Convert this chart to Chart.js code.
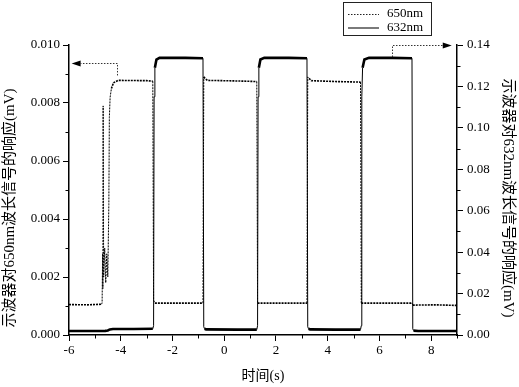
<!DOCTYPE html>
<html>
<head>
<meta charset="utf-8">
<script src="https://cdn.jsdelivr.net/npm/chart.js@4"></script>
<style>
  html, body { margin: 0; padding: 0; background: #fff; }
  #wrap { width: 519px; height: 387px; }
</style>
</head>
<body>
<div id="wrap"><canvas id="chart" width="519" height="387"></canvas></div>
<script>
// tick labels
var xTicks = [-6, -4, -2, 0, 2, 4, 6, 8];
var xMinor = [-5, -3, -1, 1, 3, 5, 7, 9];
var leftTicks = [0, 0.002, 0.004, 0.006, 0.008, 0.010];
var leftMinor = [0.001, 0.003, 0.005, 0.007, 0.009];
var rightTicks = [0, 0.02, 0.04, 0.06, 0.08, 0.10, 0.12, 0.14];
var rightMinor = [0.01, 0.03, 0.05, 0.07, 0.09, 0.11, 0.13];

// 650nm response (left axis, mV)
var time650 = [
  -6.0, -5.3, -4.75, -4.72, -4.70, -4.69, -4.68, -4.66, -4.62, -4.58, -4.54, -4.50,
  -4.46, -4.44, -4.41, -4.36, -4.28, -4.1, -3.0, -2.76,
  -2.73, -2.68, -1.5, -0.82,
  -0.79, -0.74, -0.65, 0.5, 1.26,
  1.29, 3.20,
  3.23, 3.28, 3.37, 4.3, 5.27,
  5.30, 7.26,
  7.29, 8.2, 9.0
];
var resp650 = [
  0.00105, 0.00104, 0.00106, 0.00110, 0.0028, 0.0016, 0.0079, 0.0020, 0.0030, 0.0018, 0.0028, 0.0020,
  0.0045, 0.0075, 0.0082, 0.0085, 0.0087, 0.00878, 0.00877, 0.00875,
  0.0012, 0.0011, 0.0011, 0.0011,
  0.0089, 0.00885, 0.00878, 0.00876, 0.00874,
  0.0011, 0.0011,
  0.0089, 0.00885, 0.00877, 0.00874, 0.00872,
  0.0011, 0.0011,
  0.00103, 0.00104, 0.00102
];

// 632nm response (right axis, mV)
var time632 = [
  -6.0, -5.2, -4.6, -4.5, -4.42, -4.3, -3.5, -2.76,
  -2.73, -2.71, -2.68, -2.62, -2.5, -1.5, -0.82,
  -0.79, -0.76, -0.7, 0.5, 1.26,
  1.29, 1.31, 1.34, 1.40, 1.55, 2.5, 3.20,
  3.23, 3.26, 3.32, 4.3, 5.27,
  5.30, 5.32, 5.35, 5.42, 5.6, 6.5, 7.26,
  7.29, 7.32, 7.5, 8.3, 9.0
];
var resp632 = [
  0.0019, 0.0019, 0.0020, 0.0022, 0.0027, 0.0029, 0.0029, 0.0030,
  0.0045, 0.115, 0.129, 0.133, 0.1338, 0.1338, 0.1336,
  0.0040, 0.0030, 0.0027, 0.0026, 0.0026,
  0.0045, 0.115, 0.129, 0.133, 0.1338, 0.1338, 0.1336,
  0.0040, 0.0030, 0.0027, 0.0026, 0.0026,
  0.0045, 0.115, 0.129, 0.133, 0.1338, 0.1338, 0.1336,
  0.0030, 0.0021, 0.0019, 0.0019, 0.0019
];

var leftTitle = '示波器对650nm波长信号的响应(mV)';
var rightTitle = '示波器对632nm波长信号的响应(mV)';

var serif = "'Liberation Serif', 'Times New Roman', 'Noto Sans CJK SC', serif";

function pairs(xs, ys) {
  return xs.map(function(x, i) { return { x: x, y: ys[i] }; });
}

function fixTicks(list) {
  return function(scale) {
    scale.ticks = list.map(function(v) { return { value: v }; });
  };
}

// steep edges are drawn thin, flat runs thicker (noisy trace look)
function edgeWidth(flat, steep) {
  return function(c) {
    return Math.abs(c.p1.parsed.x - c.p0.parsed.x) < 0.05 ? steep : flat;
  };
}

// minor ticks, axis titles, legend box and the two pointer arrows
var decor = {
  id: 'decor',
  afterDraw: function(chart) {
    var ctx = chart.ctx;
    var xs = chart.scales.x, yl = chart.scales.y, yr = chart.scales.y2;
    var area = chart.chartArea;
    ctx.save();
    ctx.strokeStyle = '#000';
    ctx.lineWidth = 1;
    ctx.beginPath();
    xMinor.forEach(function(v) {
      var p = Math.round(xs.getPixelForValue(v)) + 0.5;
      ctx.moveTo(p, area.bottom); ctx.lineTo(p, area.bottom + 3.5);
    });
    leftMinor.forEach(function(v) {
      var p = Math.round(yl.getPixelForValue(v)) + 0.5;
      ctx.moveTo(area.left, p); ctx.lineTo(area.left - 3.5, p);
    });
    rightMinor.forEach(function(v) {
      var p = Math.round(yr.getPixelForValue(v)) + 0.5;
      ctx.moveTo(area.right, p); ctx.lineTo(area.right + 3.5, p);
    });
    ctx.stroke();

    // y titles
    ctx.fillStyle = '#000';
    ctx.font = '15px ' + serif;
    ctx.textAlign = 'center';
    ctx.textBaseline = 'middle';
    ctx.save();
    ctx.translate(10, 208);
    ctx.rotate(-Math.PI / 2);
    ctx.fillText(leftTitle, 0, 0);
    ctx.restore();
    ctx.save();
    ctx.translate(508, 198);
    ctx.rotate(Math.PI / 2);
    ctx.fillText(rightTitle, 0, 0);
    ctx.restore();

    // legend
    ctx.strokeStyle = '#222';
    ctx.strokeRect(343.5, 2.5, 88, 33);
    ctx.setLineDash([1.5, 1.5]);
    ctx.beginPath(); ctx.moveTo(348, 14.5); ctx.lineTo(379, 14.5); ctx.stroke();
    ctx.setLineDash([]);
    ctx.lineWidth = 1.2;
    ctx.beginPath(); ctx.moveTo(348, 28); ctx.lineTo(379, 28); ctx.stroke();
    ctx.font = '13px ' + serif;
    ctx.textAlign = 'left';
    ctx.fillText('650nm', 387, 14);
    ctx.fillText('632nm', 387, 28);

    // arrows
    function arrow(pts, dir) {
      ctx.lineWidth = 1;
      ctx.strokeStyle = '#333';
      ctx.setLineDash([1.5, 1.5]);
      ctx.beginPath();
      ctx.moveTo(pts[0][0], pts[0][1]);
      for (var i = 1; i < pts.length; i++) ctx.lineTo(pts[i][0], pts[i][1]);
      ctx.stroke();
      ctx.setLineDash([]);
      var tip = pts[pts.length - 1];
      ctx.fillStyle = '#000';
      ctx.beginPath();
      ctx.moveTo(tip[0] + dir * 9, tip[1]);
      ctx.lineTo(tip[0], tip[1] - 3);
      ctx.lineTo(tip[0], tip[1] + 3);
      ctx.closePath();
      ctx.fill();
    }
    var lx = Math.round(xs.getPixelForValue(-4.15)) + 0.5;
    var ly = Math.round(yl.getPixelForValue(0.00938)) + 0.5;
    arrow([[lx, yl.getPixelForValue(0.00895)], [lx, ly], [xs.getPixelForValue(-5.55), ly]], -1);
    var rx = Math.round(xs.getPixelForValue(6.5)) + 0.5;
    var ry = Math.round(yr.getPixelForValue(0.14)) + 0.5;
    arrow([[rx, yr.getPixelForValue(0.1342)], [rx, ry], [xs.getPixelForValue(8.45), ry]], 1);
    ctx.restore();
  }
};

var ctx = document.getElementById('chart').getContext('2d');
var chart = new Chart(ctx, {
  type: 'line',
  data: {
    datasets: [{
      label: '650nm',
      data: pairs(time650, resp650),
      yAxisID: 'y',
      borderColor: '#000',
      borderWidth: 1.3,
      borderDash: [2, 1],
      segment: { borderWidth: edgeWidth(1.6, 1) },
      pointRadius: 0,
      tension: 0,
      fill: false
    }, {
      label: '632nm',
      data: pairs(time632, resp632),
      yAxisID: 'y2',
      borderColor: '#000',
      borderWidth: 2.2,
      segment: { borderWidth: edgeWidth(2.6, 1) },
      pointRadius: 0,
      tension: 0,
      fill: false
    }]
  },
  options: {
    responsive: false,
    devicePixelRatio: 1,
    animation: false,
    layout: { padding: { top: 45, left: 0, right: 0, bottom: 0 } },
    plugins: { legend: { display: false }, tooltip: { enabled: false } },
    scales: {
      x: {
        type: 'linear',
        min: -6,
        max: 9,
        afterBuildTicks: fixTicks(xTicks),
        afterFit: function(s) { s.height = 52; },
        border: { color: '#000', width: 1.5 },
        grid: { drawOnChartArea: false, tickLength: 6, tickColor: '#000', tickWidth: 1 },
        ticks: { color: '#000', font: { family: serif, size: 13 }, padding: 2, maxRotation: 0 },
        title: { display: true, text: '时间(s)', color: '#000', font: { family: serif, size: 14 }, padding: { top: 0, bottom: 2 } }
      },
      y: {
        position: 'left',
        min: 0,
        max: 0.010,
        afterBuildTicks: fixTicks(leftTicks),
        afterFit: function(s) { s.width = 69; },
        border: { color: '#000', width: 1.5 },
        grid: { drawOnChartArea: false, tickLength: 6, tickColor: '#000', tickWidth: 1 },
        ticks: { color: '#000', font: { family: serif, size: 13 }, padding: 3,
          callback: function(v) { return v.toFixed(3); } }
      },
      y2: {
        position: 'right',
        min: 0,
        max: 0.14,
        afterBuildTicks: fixTicks(rightTicks),
        afterFit: function(s) { s.width = 62; },
        border: { color: '#000', width: 1.5 },
        grid: { drawOnChartArea: false, tickLength: 6, tickColor: '#000', tickWidth: 1 },
        ticks: { color: '#000', font: { family: serif, size: 13 }, padding: 4,
          callback: function(v) { return v.toFixed(2); } }
      }
    }
  },
  plugins: [decor]
});
</script>
</body>
</html>
